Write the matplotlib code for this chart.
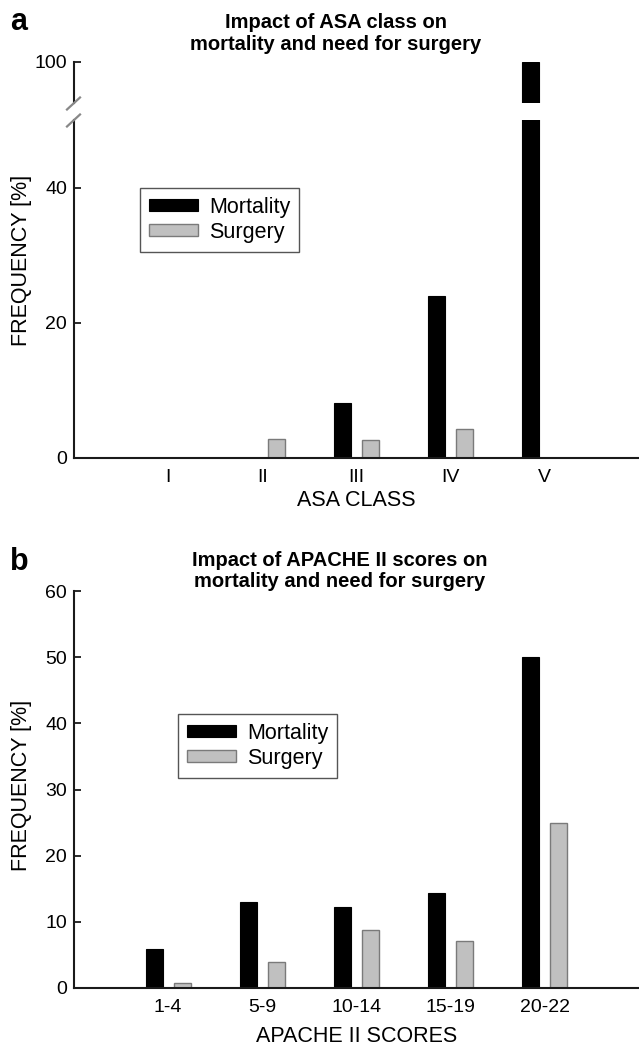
import numpy as np
import matplotlib
matplotlib.use('Agg')
import matplotlib.pyplot as plt

plt.rcParams['font.family'] = ['Liberation Sans', 'DejaVu Sans']

asa_classes = ['I', 'II', 'III', 'IV', 'V']
asa_mortality = [0, 0, 8.2, 23.9, 100]
asa_surgery = [0, 2.8, 2.7, 4.3, 0]

apache_groups = ['1-4', '5-9', '10-14', '15-19', '20-22']
apache_mortality = [5.9, 13.0, 12.3, 14.3, 50.0]
apache_surgery = [0.7, 4.0, 8.8, 7.1, 25.0]

W, H = 639, 1052
fig = plt.figure(figsize=(W / 100, H / 100), dpi=100)

BAR_W = 0.18
OFF = 0.148
MORT_KW = dict(color='black', edgecolor='black', linewidth=0.8)
SURG_KW = dict(color='#c0c0c0', edgecolor='#7a7a7a', linewidth=1.0)
SPINE_C = '#1a1a1a'
TICK_FS = 14
LAB_FS = 15.5
TITLE_FS = 14.5


def px_axes(left, top, right, bottom):
    return fig.add_axes([left / W, 1 - bottom / H, (right - left) / W, (bottom - top) / H])


def style(ax):
    for s in ['top', 'right']:
        ax.spines[s].set_visible(False)
    for s in ['left', 'bottom']:
        ax.spines[s].set_color(SPINE_C)
        ax.spines[s].set_linewidth(1.5)
    ax.tick_params(axis='y', direction='in', length=5, width=1.3, color=SPINE_C,
                   labelsize=TICK_FS, pad=5)
    ax.tick_params(axis='x', length=0, labelsize=TICK_FS, pad=8)
    ax.set_xlim(-1, 5)


def bars(ax, mort, surg):
    x = np.arange(len(mort))
    ax.bar(x - OFF, mort, BAR_W, label='Mortality', **MORT_KW)
    ax.bar(x + OFF, surg, BAR_W, label='Surgery', **SURG_KW)


def legend(ax, left, top):
    ax.legend(loc='upper left', bbox_to_anchor=(left / W, 1 - top / H),
              bbox_transform=fig.transFigure, fontsize=15.5, fancybox=False,
              edgecolor='#555555', framealpha=1, borderaxespad=0,
              handlelength=2.3, handleheight=0.5, handletextpad=0.5,
              labelspacing=0.2, borderpad=0.4)


# ---------- panel a (broken y axis) ----------
ax_hi = px_axes(74, 61.7, W, 102.7)
ax_lo = px_axes(74, 120, W, 458)
for ax in (ax_hi, ax_lo):
    style(ax)
    bars(ax, asa_mortality, asa_surgery)
ax_hi.set_ylim(94, 100)
ax_hi.set_yticks([100])
ax_hi.spines['bottom'].set_visible(False)
ax_hi.set_xticks([])
ax_lo.set_ylim(0, 50)
ax_lo.set_yticks([0, 20, 40])
ax_lo.set_xticks(range(len(asa_classes)))
ax_lo.set_xticklabels(asa_classes)
ax_lo.set_xlabel('ASA CLASS', fontsize=LAB_FS, labelpad=3)
ax_lo.set_ylabel('FREQUENCY [%]', fontsize=LAB_FS)
ax_lo.yaxis.set_label_coords(-0.074, (458 - 260) / 338)
legend(ax_lo, 140, 188)

# break marks on the y axis
for yb in (103.5, 120.5):
    fig.add_artist(plt.Line2D([67 / W, 80 / W], [1 - (yb + 6) / H, 1 - (yb - 6) / H],
                              transform=fig.transFigure, color='#888888', lw=1.6))

fig.text(336 / W, 1 - 28 / H, 'Impact of ASA class on', ha='center', va='baseline',
         fontsize=TITLE_FS, fontweight='bold')
fig.text(336 / W, 1 - 50 / H, 'mortality and need for surgery', ha='center', va='baseline',
         fontsize=TITLE_FS, fontweight='bold')
fig.text(10 / W, 1 - 30 / H, 'a', ha='left', va='baseline', fontsize=22, fontweight='bold')

# ---------- panel b ----------
ax_b = px_axes(74, 591, W, 988)
style(ax_b)
bars(ax_b, apache_mortality, apache_surgery)
ax_b.set_ylim(0, 60)
ax_b.set_yticks(range(0, 61, 10))
ax_b.set_xticks(range(len(apache_groups)))
ax_b.set_xticklabels(apache_groups)
ax_b.set_xlabel('APACHE II SCORES', fontsize=LAB_FS, labelpad=7)
ax_b.set_ylabel('FREQUENCY [%]', fontsize=LAB_FS)
ax_b.yaxis.set_label_coords(-0.074, (988 - 785) / 397)
legend(ax_b, 178, 714)

fig.text(340 / W, 1 - 566 / H, 'Impact of APACHE II scores on', ha='center', va='baseline',
         fontsize=TITLE_FS, fontweight='bold')
fig.text(340 / W, 1 - 587 / H, 'mortality and need for surgery', ha='center', va='baseline',
         fontsize=TITLE_FS, fontweight='bold')
fig.text(10 / W, 1 - 570 / H, 'b', ha='left', va='baseline', fontsize=22, fontweight='bold')

fig.savefig('out.png', dpi=100)
